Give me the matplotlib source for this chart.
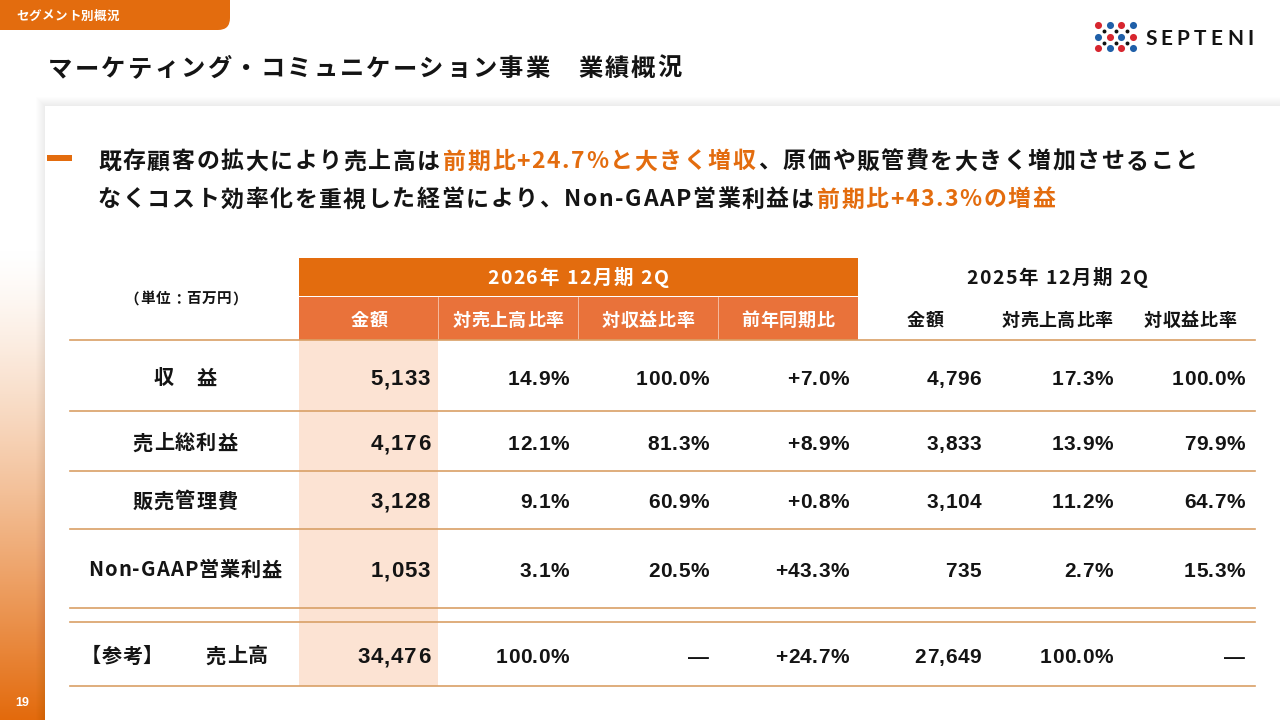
import numpy as np
import matplotlib
matplotlib.use("Agg")
import matplotlib.pyplot as plt
from matplotlib import font_manager as fm
from matplotlib.ft2font import FT2Font
from matplotlib.patches import Rectangle, FancyBboxPatch

# ---- data (百万円) ----
row_labels = ["収　益", "売上総利益", "販売管理費", "Non-GAAP営業利益"]
amount_2026 = [5133, 4176, 3128, 1053]
sales_ratio_2026 = [14.9, 12.1, 9.1, 3.1]
revenue_ratio_2026 = [100.0, 81.3, 60.9, 20.5]
yoy_2026 = [7.0, 8.9, 0.8, 43.3]
amount_2025 = [4796, 3833, 3104, 735]
sales_ratio_2025 = [17.3, 13.9, 11.2, 2.7]
revenue_ratio_2025 = [100.0, 79.9, 64.7, 15.3]

ref_label = ["【参考】", "売上高"]
ref_sales = [34476, 100.0, None, 24.7, 27649, 100.0, None]

head_2026 = "2026年 12月期 2Q"
head_2025 = "2025年 12月期 2Q"
sub_2026 = ["金額", "対売上高比率", "対収益比率", "前年同期比"]
sub_2025 = ["金額", "対売上高比率", "対収益比率"]

title = "マーケティング・コミュニケーション事業　業績概況"
tab_text = "セグメント別概況"
line1 = [("既存顧客の拡大により売上高は", 0), ("前期比+24.7%と大きく増収", 1),
         ("、原価や販管費を大きく増加させること", 0)]
line2 = [("なくコスト効率化を重視した経営により、Non-GAAP営業利益は", 0),
         ("前期比+43.3%の増益", 1)]

ORANGE = "#E36C0E"
ORANGE2 = "#E9723A"
PEACH = "#FCE3D3"
RULE = "#D9A066"
INK = "#141414"
DPI = 100

fig = plt.figure(figsize=(12.8, 7.2), dpi=DPI)
ax = fig.add_axes([0, 0, 1, 1])
ax.set_xlim(0, 1280)
ax.set_ylim(720, 0)
ax.axis("off")

JP = fm.findfont(fm.FontProperties(family="Noto Sans CJK JP", weight="bold"))
NUM = fm.findfont(fm.FontProperties(family="Liberation Sans", weight="bold"))
LOGO = fm.findfont(fm.FontProperties(family="Lato", weight="bold"))


def advances(s, path, size):
    f = FT2Font(path)
    f.set_size(size, DPI)
    out = []
    for ch in s:
        g = f.load_char(ord(ch))
        out.append(g.linearHoriAdvance / 65536)
    return out


def put(x, y, s, size, path=JP, color=INK, ha="left", track=0.0, z=6):
    # draw text char by char so letter spacing can be matched
    adv = advances(s, path, size)
    total = sum(adv) + track * (len(s) - 1)
    if ha == "center":
        x0 = x - total / 2
    elif ha == "right":
        x0 = x - total
    else:
        x0 = x
    base = y + 0.37 * size * DPI / 72
    fp = fm.FontProperties(fname=path, size=size)
    pen = x0
    for ch, a in zip(s, adv):
        if ch.strip():
            ax.text(pen, base, ch, fontproperties=fp, color=color,
                    ha="left", va="baseline", zorder=z)
        pen += a + track
    return pen


# left gradient strip (white at top, orange at the bottom)
yy = np.linspace(250, 720, 300)
t = ((yy - 250) / 470) ** 1.3
top = np.array([1.0, 1.0, 1.0])
bot = np.array([0xE3, 0x6A, 0x0C]) / 255
grad = (top[None, :] * (1 - t[:, None]) + bot[None, :] * t[:, None])[:, None, :]
ax.imshow(grad, extent=[0, 45, 720, 250], aspect="auto", zorder=0)
ax.set_xlim(0, 1280)
ax.set_ylim(720, 0)

# ---- background panel with soft shadow ----
for i in range(10):
    ax.add_patch(Rectangle((45 - i, 106 - i), 1300, 700, facecolor="black",
                           alpha=0.006, lw=0, zorder=0.5))
ax.add_patch(Rectangle((45, 106), 1300, 700, facecolor="white", lw=0, zorder=1))

# ---- header tab, title, logo ----
ax.add_patch(FancyBboxPatch((-30, -30), 260, 60, boxstyle="round,pad=0,rounding_size=12",
                            facecolor=ORANGE, lw=0, zorder=3))
put(16, 15, tab_text, 9, color="white", track=0.5)
put(48, 67, title, 17.5, track=2.2)

for r in range(3):
    for c in range(4):
        col = "#D7262F" if (r + c) % 2 == 0 else "#1F5FA8"
        ax.scatter(1098 + c * 11.7, 25 + r * 11.5, s=26, color=col, lw=0, zorder=6)
for r in range(2):
    for c in range(3):
        ax.scatter(1104 + c * 11.7, 31 + r * 11.5, s=8, color="#111111", lw=0, zorder=6)
put(1145, 37, "SEPTENI", 15, path=LOGO, track=4.2)

# ---- headline ----
ax.add_patch(Rectangle((47, 155), 25, 6, facecolor=ORANGE, lw=0, zorder=5))
for y, runs in ((160, line1), (198, line2)):
    x = 98
    for txt, hl in runs:
        x = put(x, y, txt, 16.5, color=ORANGE if hl else INK, track=1.6) + 1.6

# ---- table ----
ax.add_patch(Rectangle((299, 258), 559, 38, facecolor=ORANGE, lw=0, zorder=3))
ax.add_patch(Rectangle((299, 297), 559, 43, facecolor=ORANGE2, lw=0, zorder=3))
ax.add_patch(Rectangle((299, 340), 139, 346, facecolor=PEACH, lw=0, zorder=3))
for xs in (438, 578, 718):
    ax.plot([xs, xs], [297, 340], color="white", lw=0.6, alpha=0.6, zorder=4)

put(578, 277, head_2026, 14, color="white", ha="center", track=1.6)
put(1057, 277, head_2025, 14, ha="center", track=1.6)
for cx, s in zip((369, 508, 648, 788), sub_2026):
    put(cx, 319, s, 13, color="white", ha="center", track=0.6)
for cx, s in zip((925, 1057, 1190), sub_2025):
    put(cx, 319, s, 13, ha="center", track=0.6)
put(186, 298, "（単位：百万円）", 10.5, ha="center", track=0.8)

for yl in (340, 411, 471, 529, 608, 622, 686):
    ax.plot([70, 1255], [yl, yl], color=RULE, lw=1.2, zorder=4)

right_edges = [430, 569, 709, 849, 981, 1113, 1245]
row_y = [377, 442, 500, 569]


def fmt(v, kind):
    if v is None:
        return "—"
    if kind == "amt":
        return f"{v:,}"
    if kind == "yoy":
        return f"{v:+.1f}%"
    return f"{v:.1f}%"


kinds = ["amt", "pct", "pct", "yoy", "amt", "pct", "pct"]
for i, lab in enumerate(row_labels):
    put(185, row_y[i], lab, 14.5, ha="center", track=1.0)
    vals = [amount_2026[i], sales_ratio_2026[i], revenue_ratio_2026[i], yoy_2026[i],
            amount_2025[i], sales_ratio_2025[i], revenue_ratio_2025[i]]
    for j, v in enumerate(vals):
        size = 16 if j == 0 else 15
        put(right_edges[j], row_y[i], fmt(v, kinds[j]), size, path=NUM, ha="right",
            track=1.0 if j == 0 else 0.5)

put(122, 655, ref_label[0], 14.5, ha="center", track=0.5)
put(237, 655, ref_label[1], 14.5, ha="center", track=1.0)
for j, v in enumerate(ref_sales):
    size = 16 if j == 0 else 15
    put(right_edges[j], 655, fmt(v, kinds[j]), size, path=NUM, ha="right",
        track=1.0 if j == 0 else 0.5)

put(22, 701, "19", 9, path=NUM, color="white", ha="center")

fig.savefig("out.png", dpi=DPI)
